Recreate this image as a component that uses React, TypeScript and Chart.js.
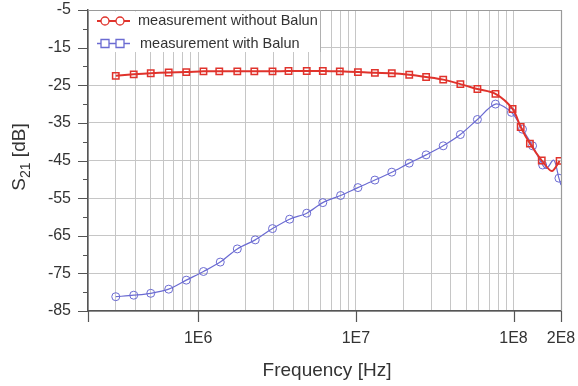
import React, { useEffect, useRef } from "react";
import { Chart, registerables } from "chart.js";

Chart.register(...registerables);

// ---- Data ----
const redFreq = [
  3.0e5, 3.9e5, 5.0e5, 6.5e5, 8.4e5, 1.08e6, 1.36e6, 1.77e6, 2.27e6, 2.96e6,
  3.74e6, 4.88e6, 6.17e6, 7.91e6, 1.03e7, 1.32e7, 1.69e7, 2.18e7, 2.79e7, 3.58e7,
  4.6e7, 5.9e7, 7.68e7, 9.86e7, 1.11e8, 1.27e8, 1.51e8, 1.75e8, 1.96e8,
];
const redDb = [
  -22.5, -22.1, -21.8, -21.6, -21.5, -21.3, -21.3, -21.3, -21.3, -21.3,
  -21.2, -21.2, -21.2, -21.3, -21.5, -21.7, -21.8, -22.2, -22.8, -23.5,
  -24.7, -26.0, -27.3, -31.3, -36.1, -40.5, -45.0, -47.8, -45.1,
];
const redMarker = [
  1, 1, 1, 1, 1, 1, 1, 1, 1, 1, 1, 1, 1, 1, 1, 1, 1, 1, 1, 1, 1, 1, 1, 1, 1, 1, 1, 0, 1,
];

const blueFreq = [
  3.0e5, 3.9e5, 5.0e5, 6.5e5, 8.4e5, 1.08e6, 1.38e6, 1.77e6, 2.3e6, 2.96e6,
  3.8e6, 4.88e6, 6.17e6, 8.0e6, 1.03e7, 1.32e7, 1.69e7, 2.18e7, 2.79e7, 3.58e7,
  4.6e7, 5.9e7, 7.68e7, 9.7e7, 1.14e8, 1.32e8, 1.53e8, 1.62e8, 1.8e8, 1.94e8, 2.0e8,
];
const blueDb = [
  -81.2, -80.8, -80.3, -79.2, -76.8, -74.5, -72.0, -68.5, -66.1, -63.1,
  -60.6, -59.0, -56.2, -54.3, -52.2, -50.2, -48.1, -45.7, -43.5, -41.1,
  -38.1, -34.1, -30.0, -32.2, -36.7, -41.1, -46.2, -47.1, -44.9, -49.7, -51.5,
];
const blueMarker = [
  1, 1, 1, 1, 1, 1, 1, 1, 1, 1, 1, 1, 1, 1, 1, 1, 1, 1, 1, 1,
  1, 1, 1, 1, 1, 1, 1, 0, 0, 1, 0,
];

const seriesNames = ["measurement without Balun", "measurement with Balun"];

const yTickValues = [-85, -75, -65, -55, -45, -35, -25, -15, -5];
const yMinorValues = [-80, -70, -60, -50, -40, -30, -20, -10];
const xGridValues = [
  2e5, 3e5, 4e5, 5e5, 6e5, 7e5, 8e5, 9e5,
  1e6, 2e6, 3e6, 4e6, 5e6, 6e6, 7e6, 8e6, 9e6,
  1e7, 2e7, 3e7, 4e7, 5e7, 6e7, 7e7, 8e7, 9e7,
  1e8, 2e8,
];
const xLabelValues = [1e6, 1e7, 1e8, 2e8];
const xLabelTexts = ["1E6", "1E7", "1E8", "2E8"];
const xMajorTickValues = [2e5, 1e6, 1e7, 1e8, 2e8];

const X_TITLE = "Frequency [Hz]";
const Y_TITLE_MAIN = "S";
const Y_TITLE_SUB = "21";
const Y_TITLE_REST = " [dB]";

// ---- Styles ----
const FONT = "'Liberation Sans', Arial, Helvetica, sans-serif";
const RED = "#e0332c";
const BLUE = "#6b6bd2";
const TEXT = "#333333";
const GRID = "#c6c6c6";
const AXIS = "#555555";
const FRAME = "#9a9a9a";

const decorPlugin = {
  id: "decor",
  beforeDatasetsDraw(chart: any) {
    const { ctx, chartArea: a } = chart;
    ctx.save();
    ctx.strokeStyle = FRAME;
    ctx.lineWidth = 1.2;
    ctx.beginPath();
    ctx.moveTo(a.left, a.top + 0.5);
    ctx.lineTo(a.right + 0.5, a.top + 0.5);
    ctx.lineTo(a.right + 0.5, a.bottom);
    ctx.stroke();
    ctx.restore();
  },
  afterDraw(chart: any) {
    const { ctx, chartArea: a, scales } = chart;
    const x = scales.x;
    const y = scales.y;
    ctx.save();
    // tick marks
    ctx.strokeStyle = AXIS;
    ctx.lineWidth = 1.2;
    ctx.beginPath();
    yTickValues.forEach((v) => {
      const py = Math.round(y.getPixelForValue(v)) + 0.5;
      ctx.moveTo(a.left - 10, py);
      ctx.lineTo(a.left, py);
    });
    yMinorValues.forEach((v) => {
      const py = Math.round(y.getPixelForValue(v)) + 0.5;
      ctx.moveTo(a.left - 5, py);
      ctx.lineTo(a.left, py);
    });
    xMajorTickValues.forEach((v) => {
      const px = Math.round(x.getPixelForValue(v)) + 0.5;
      ctx.moveTo(px, a.bottom);
      ctx.lineTo(px, a.bottom + 11);
    });
    ctx.stroke();

    // legend box
    const boxRight = 320;
    const boxBottom = 52;
    ctx.fillStyle = "#ffffff";
    ctx.fillRect(a.left + 1, a.top + 1.5, boxRight - a.left - 1, boxBottom - a.top - 1.5);
    ctx.strokeStyle = "#b0b0b0";
    ctx.lineWidth = 1;
    ctx.beginPath();
    ctx.moveTo(boxRight + 0.5, a.top);
    ctx.lineTo(boxRight + 0.5, boxBottom);
    ctx.stroke();

    const rows = [
      { y: 21, color: RED, width: 2, shape: "circle", name: seriesNames[0], tx: 138 },
      { y: 43.5, color: BLUE, width: 1.3, shape: "rect", name: seriesNames[1], tx: 140 },
    ];
    rows.forEach((r) => {
      ctx.strokeStyle = r.color;
      ctx.lineWidth = r.width;
      ctx.beginPath();
      ctx.moveTo(97, r.y);
      ctx.lineTo(130, r.y);
      ctx.stroke();
      ctx.lineWidth = 1.3;
      [105, 120].forEach((cx) => {
        ctx.fillStyle = "#ffffff";
        ctx.beginPath();
        if (r.shape === "circle") {
          ctx.arc(cx, r.y, 4, 0, Math.PI * 2);
        } else {
          ctx.rect(cx - 4, r.y - 4, 8, 8);
        }
        ctx.fill();
        ctx.stroke();
      });
      ctx.fillStyle = TEXT;
      ctx.font = `14.5px ${FONT}`;
      ctx.textAlign = "left";
      ctx.textBaseline = "middle";
      ctx.fillText(r.name, r.tx, r.y);
    });

    // x title
    ctx.fillStyle = TEXT;
    ctx.font = `19px ${FONT}`;
    ctx.textAlign = "center";
    ctx.textBaseline = "middle";
    ctx.fillText(X_TITLE, 327, 371);

    // y title with subscript
    ctx.save();
    ctx.translate(25, 157);
    ctx.rotate(-Math.PI / 2);
    ctx.textAlign = "left";
    ctx.textBaseline = "alphabetic";
    ctx.font = `19px ${FONT}`;
    const wS = ctx.measureText(Y_TITLE_MAIN).width;
    const wR = ctx.measureText(Y_TITLE_REST).width;
    ctx.font = `14px ${FONT}`;
    const w21 = ctx.measureText(Y_TITLE_SUB).width;
    const total = wS + w21 + wR;
    let tx = -total / 2;
    ctx.font = `19px ${FONT}`;
    ctx.fillText(Y_TITLE_MAIN, tx, 0);
    tx += wS;
    ctx.font = `14px ${FONT}`;
    ctx.fillText(Y_TITLE_SUB, tx, 5);
    tx += w21;
    ctx.font = `19px ${FONT}`;
    ctx.fillText(Y_TITLE_REST, tx, 0);
    ctx.restore();

    ctx.restore();
  },
};

export default function App() {
  const canvasRef = useRef<HTMLCanvasElement | null>(null);

  useEffect(() => {
    const canvas = canvasRef.current;
    if (!canvas) return;
    const chart = new Chart(canvas, {
      type: "line",
      data: {
        datasets: [
          {
            label: seriesNames[0],
            data: redFreq.map((f, i) => ({ x: f, y: redDb[i] })),
            borderColor: RED,
            borderWidth: 2,
            pointStyle: "rect",
            pointRadius: redMarker.map((m) => (m ? 4.5 : 0)),
            pointBorderColor: RED,
            pointBackgroundColor: "rgba(255,255,255,0)",
            pointBorderWidth: 1.5,
            tension: 0.3,
            fill: false,
          },
          {
            label: seriesNames[1],
            data: blueFreq.map((f, i) => ({ x: f, y: blueDb[i] })),
            borderColor: BLUE,
            borderWidth: 1.2,
            pointStyle: "circle",
            pointRadius: blueMarker.map((m) => (m ? 4 : 0)),
            pointBorderColor: BLUE,
            pointBackgroundColor: "rgba(255,255,255,0)",
            pointBorderWidth: 1,
            tension: 0.3,
            fill: false,
          },
        ],
      },
      options: {
        responsive: false,
        animation: false,
        layout: { padding: { top: 10, right: 17, left: 0, bottom: 0 } },
        plugins: {
          legend: { display: false },
          tooltip: { enabled: false },
        },
        scales: {
          x: {
            type: "logarithmic",
            min: 2e5,
            max: 2e8,
            afterBuildTicks: (s: any) => {
              s.ticks = xGridValues.map((v) => ({ value: v }));
            },
            afterFit: (s: any) => {
              s.height = 75;
              s.paddingLeft = 0;
              s.paddingRight = 0;
            },
            ticks: {
              autoSkip: false,
              maxRotation: 0,
              minRotation: 0,
              padding: 18,
              color: TEXT,
              font: { family: FONT, size: 16 },
              callback: (v: any) => {
                const i = xLabelValues.indexOf(Number(v));
                return i >= 0 ? xLabelTexts[i] : "";
              },
            },
            grid: { color: GRID, lineWidth: 1, drawTicks: false },
            border: { display: true, color: AXIS, width: 1.5 },
          },
          y: {
            type: "linear",
            min: -85,
            max: -5,
            afterBuildTicks: (s: any) => {
              s.ticks = yTickValues.map((v) => ({ value: v }));
            },
            afterFit: (s: any) => {
              s.width = 88;
              s.paddingTop = 0;
              s.paddingBottom = 0;
            },
            ticks: {
              padding: 17,
              color: TEXT,
              font: { family: FONT, size: 16 },
              callback: (v: any) => String(v),
            },
            grid: { color: GRID, lineWidth: 1, drawTicks: false },
            border: { display: true, color: AXIS, width: 1.5 },
          },
        },
      },
      plugins: [decorPlugin],
    } as any);
    return () => chart.destroy();
  }, []);

  return (
    <div style={{ position: "fixed", left: 0, top: 0, width: 578, height: 386, background: "#fff" }}>
      <canvas ref={canvasRef} width={578} height={386} style={{ display: "block" }} />
    </div>
  );
}
